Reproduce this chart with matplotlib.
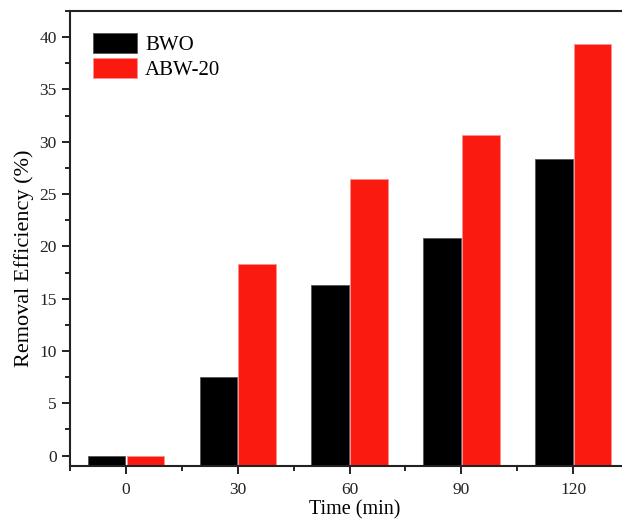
import numpy as np
import matplotlib
matplotlib.use('Agg')
import matplotlib.pyplot as plt
from matplotlib.ticker import MultipleLocator

plt.rcParams['font.family'] = ['Liberation Serif', 'DejaVu Serif']

# datos
tiempos = ['0', '30', '60', '90', '120']
bwo = [0.0, 7.5, 16.3, 20.8, 28.4]
abw20 = [0.0, 18.3, 26.4, 30.6, 39.3]

y_min = -1.0
ancho = 0.335

fig = plt.figure(figsize=(6.22, 5.2), dpi=100)
ax = fig.add_axes([0.1125, 0.1038, 0.8875, 0.875])

x = np.arange(len(tiempos))
ax.bar(x - ancho / 2 - 0.006, np.array(bwo) - y_min, ancho, bottom=y_min,
       color='black', edgecolor='#555555', linewidth=0.6, label='BWO')
ax.bar(x + ancho / 2 + 0.006, np.array(abw20) - y_min, ancho, bottom=y_min,
       color='#fa1a10', edgecolor='#ff9090', linewidth=0.6, label='ABW-20')

ax.set_xlim(-0.5, 4.436)
ax.set_ylim(y_min, 42.5)
ax.set_xticks(x)
ax.set_xticklabels(tiempos)
ax.xaxis.set_minor_locator(MultipleLocator(0.5))
ax.yaxis.set_major_locator(MultipleLocator(5))
ax.yaxis.set_minor_locator(MultipleLocator(2.5))
ax.tick_params(which='major', direction='out', length=5.5, width=1.4, labelsize=12.5,
               colors='#222222', pad=4)
ax.tick_params(which='minor', direction='out', length=3.5, width=1.2)
ax.tick_params(axis='x', which='major', pad=6)
ax.tick_params(axis='x', which='both', top=False)
ax.tick_params(axis='y', which='both', right=False)

for lado in ['left', 'bottom', 'top']:
    ax.spines[lado].set_linewidth(1.5)
    ax.spines[lado].set_color('#222222')
ax.spines['right'].set_visible(False)

ax.set_xlabel('Time (min)', fontsize=14.5)
ax.set_ylabel('Removal Efficiency (%)', fontsize=16)
ax.xaxis.set_label_coords(0.516, -0.076)
ax.yaxis.set_label_coords(-0.066, 0.457)

ax.legend(loc='upper left', bbox_to_anchor=(0.042, 0.952), frameon=False, fontsize=15,
          borderpad=0, borderaxespad=0, handlelength=2.1, handleheight=1.1,
          handletextpad=0.4, labelspacing=0.15)

fig.savefig('out.png', dpi=100)
